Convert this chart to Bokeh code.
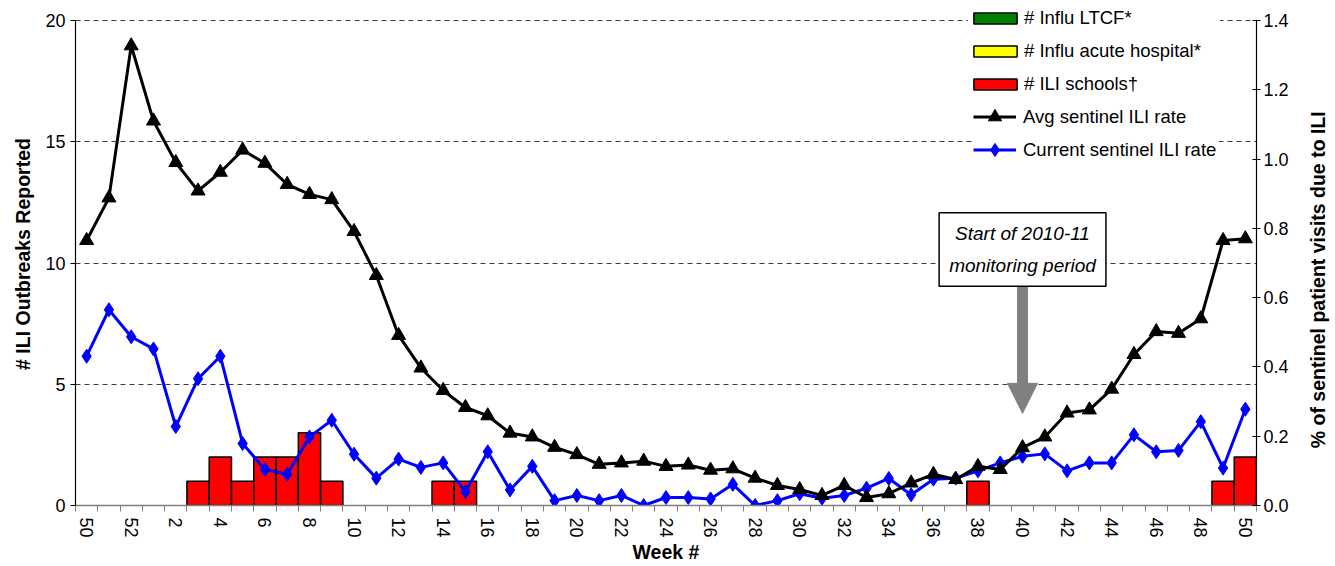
import math
from bokeh.plotting import figure
from bokeh.layouts import row
from bokeh.core.properties import value
from bokeh.models import (Range1d, LinearAxis, FixedTicker, Legend, LegendItem, Label,
                          Arrow, NormalHead, PrintfTickFormatter, ColumnDataSource)
from bokeh.embed import file_html
from bokeh.resources import INLINE

# ---------------- data ----------------
weeks = [50, 51, 52, 1, 2, 3, 4, 5, 6, 7, 8, 9, 10, 11, 12, 13, 14, 15, 16, 17, 18, 19, 20,
         21, 22, 23, 24, 25, 26, 27, 28, 29, 30, 31, 32, 33, 34, 35, 36, 37, 38, 39, 40,
         41, 42, 43, 44, 45, 46, 47, 48, 49, 50]
influ_ltcf = [0, 0, 0, 0, 0, 0, 0, 0, 0, 0, 0, 0, 0, 0, 0, 0, 0, 0, 0, 0, 0, 0, 0, 0, 0, 0, 0,
              0, 0, 0, 0, 0, 0, 0, 0, 0, 0, 0, 0, 0, 0, 0, 0, 0, 0, 0, 0, 0, 0, 0, 0, 0, 0]
influ_hosp = [0, 0, 0, 0, 0, 0, 0, 0, 0, 0, 0, 0, 0, 0, 0, 0, 0, 0, 0, 0, 0, 0, 0, 0, 0, 0, 0,
              0, 0, 0, 0, 0, 0, 0, 0, 0, 0, 0, 0, 0, 0, 0, 0, 0, 0, 0, 0, 0, 0, 0, 0, 0, 0]
ili_schools = [0, 0, 0, 0, 0, 1, 2, 1, 2, 2, 3, 1, 0, 0, 0, 0, 1, 1, 0, 0, 0, 0, 0, 0, 0, 0, 0,
               0, 0, 0, 0, 0, 0, 0, 0, 0, 0, 0, 0, 0, 1, 0, 0, 0, 0, 0, 0, 0, 0, 0, 0, 1, 2]
avg_rate = [0.765, 0.888, 1.327, 1.110, 0.990, 0.908, 0.962, 1.026, 0.988, 0.927, 0.898, 0.883,
            0.791, 0.664, 0.491, 0.397, 0.332, 0.283, 0.259, 0.209, 0.198, 0.168, 0.147, 0.119,
            0.123, 0.128, 0.113, 0.117, 0.102, 0.106, 0.079, 0.058, 0.046, 0.029, 0.058, 0.023,
            0.034, 0.065, 0.090, 0.075, 0.113, 0.104, 0.167, 0.198, 0.267, 0.276, 0.336, 0.436,
            0.502, 0.497, 0.539, 0.765, 0.770]
cur_rate = [0.431, 0.565, 0.487, 0.452, 0.228, 0.366, 0.431, 0.179, 0.104, 0.090, 0.198, 0.246,
            0.148, 0.079, 0.134, 0.110, 0.123, 0.040, 0.155, 0.045, 0.113, 0.014, 0.029, 0.014,
            0.029, 0.000, 0.023, 0.023, 0.019, 0.061, 0.000, 0.014, 0.034, 0.021, 0.029, 0.050,
            0.078, 0.031, 0.076, 0.079, 0.100, 0.123, 0.142, 0.149, 0.100, 0.123, 0.123, 0.204,
            0.155, 0.159, 0.242, 0.108, 0.278]
left_ticks = [0, 5, 10, 15, 20]
right_ticks = [0.0, 0.2, 0.4, 0.6, 0.8, 1.0, 1.2, 1.4]
series_names = ["# Influ LTCF*", "# Influ acute hospital*", "# ILI schools\u2020",
                "Avg sentinel ILI rate", "Current sentinel ILI rate"]
left_title = "# ILI Outbreaks Reported"
right_title = "% of sentinel patient visits due to ILI"
x_title = "Week #"
note_week = 40
note_text = "Start of 2010-11\nmonitoring period"

FONT = "Liberation Sans"
n = len(weeks)
xs = list(range(n))

# frame: 503 px tall, axis scale of 485 px for the 0..20 span (extra room on top for legend)
top_ext = 503.0 / 485.0
p = figure(width=1305, height=566, output_backend="svg", toolbar_location=None,
           x_range=Range1d(-0.5, n - 0.5),
           y_range=Range1d(left_ticks[0], left_ticks[-1] * top_ext),
           min_border_left=75, min_border_right=49, min_border_top=2, min_border_bottom=61)
p.outline_line_color = None
p.background_fill_color = "white"
p.xgrid.visible = False
p.ygrid.ticker = FixedTicker(ticks=left_ticks[1:])
p.ygrid.grid_line_color = "#3a3a3a"
p.ygrid.grid_line_dash = "5 4"
p.ygrid.grid_line_width = 1

p.extra_y_ranges = {"pct": Range1d(right_ticks[0], right_ticks[-1] * top_ext)}

# ---- bars (stacked) ----
def draw_bars(vals, bottoms, color):
    src = ColumnDataSource(dict(
        x=xs,
        bottom=bottoms,
        top=[b + v if v > 0 else float("nan") for b, v in zip(bottoms, vals)]))
    return p.vbar(x="x", bottom="bottom", top="top", width=1.0, source=src,
                  fill_color=color, line_color="black", line_width=1.5)

zero = [0 for _ in weeks]
b1 = draw_bars(influ_ltcf, zero, "#008000")
hosp_bottom = [a for a in influ_ltcf]
b2 = draw_bars(influ_hosp, hosp_bottom, "#FFFF00")
sch_bottom = [a + b for a, b in zip(influ_ltcf, influ_hosp)]
b3 = draw_bars(ili_schools, sch_bottom, "#FF0000")

# ---- lines on right axis ----
lc = p.line(xs, cur_rate, y_range_name="pct", line_color="#0000FF", line_width=3)
mc = p.scatter(xs, cur_rate, y_range_name="pct", marker="diamond", size=14,
               fill_color="#0000FF", line_color="#0000FF")
la = p.line(xs, avg_rate, y_range_name="pct", line_color="black", line_width=3)
ma = p.scatter(xs, avg_rate, y_range_name="pct", marker="triangle", size=14,
               fill_color="black", line_color="black")

# ---- axes ----
xax = p.xaxis[0]
xax.ticker = FixedTicker(ticks=xs[::2], minor_ticks=[i - 0.5 for i in range(n + 1)])
xax.major_label_overrides = {i: str(weeks[i]) for i in xs[::2]}
xax.major_label_orientation = -math.pi / 2
xax.major_tick_line_color = None
xax.minor_tick_out = 6
xax.minor_tick_in = 0
xax.minor_tick_line_color = "#808080"
xax.axis_line_color = "#808080"
xax.axis_line_width = 1.5
xax.major_label_standoff = 6
xax.axis_label = x_title
xax.axis_label_standoff = 0

yax = p.yaxis[0]
yax.ticker = FixedTicker(ticks=left_ticks)
yax.bounds = (left_ticks[0], left_ticks[-1])
yax.major_tick_out = 5
yax.major_tick_in = 0
yax.minor_tick_line_color = None
yax.axis_label = left_title
yax.axis_label_standoff = 8

rax = LinearAxis(y_range_name="pct", ticker=FixedTicker(ticks=right_ticks),
                 formatter=PrintfTickFormatter(format="%.1f"))
rax.bounds = (right_ticks[0], right_ticks[-1])
rax.major_tick_out = 4
rax.major_tick_in = 4
rax.major_label_standoff = 3
rax.minor_tick_line_color = None
p.add_layout(rax, "right")

for ax in (xax, yax, rax):
    ax.major_label_text_font = FONT
    ax.major_label_text_font_size = "18px"
    ax.major_label_text_color = "black"
    ax.axis_label_text_font = FONT
    ax.axis_label_text_font_size = "19.5px"
    ax.axis_label_text_font_style = "bold"
    ax.axis_label_text_color = "black"
for ax in (yax, rax):
    ax.axis_line_color = "black"
    ax.axis_line_width = 1.2
    ax.major_tick_line_color = "black"

# ---- annotation ----
note_x = 3 + weeks[3:].index(note_week)
arrow = Arrow(x_start=note_x, y_start=9.15, x_end=note_x, y_end=3.8,
              line_color="#808080", line_width=11,
              end=NormalHead(size=30, fill_color="#808080", line_color="#808080", line_width=1))
p.add_layout(arrow)
note = Label(x=note_x, y=10.56, text=note_text, text_align="center", text_baseline="middle",
             text_font=FONT, text_font_style="italic", text_font_size="19px",
             text_line_height=1.55, text_color="black",
             background_fill_color="white", border_line_color="black", border_line_width=1.5,
             padding=10)
p.add_layout(note)

# ---- legends (bars / lines) ----
def style_legend(lg):
    lg.label_height = 20
    lg.margin = 0
    lg.padding = 10
    lg.label_width = 196
    lg.label_text_font = FONT
    lg.label_text_font_size = "18.5px"
    lg.label_text_color = "black"
    lg.border_line_color = None
    lg.background_fill_color = "white"
    lg.background_fill_alpha = 1.0

legA = Legend(items=[
    LegendItem(label=series_names[0], renderers=[b1]),
    LegendItem(label=series_names[1], renderers=[b2]),
    LegendItem(label=series_names[2], renderers=[b3]),
], location=(893, 410))
style_legend(legA)
legA.glyph_width = 54
legA.glyph_height = 14
legA.spacing = 11
legA.label_standoff = 2

legB = Legend(items=[
    LegendItem(label=series_names[3], renderers=[la, ma]),
    LegendItem(label=series_names[4], renderers=[lc, mc]),
], location=(898, 339))
style_legend(legB)
legB.glyph_width = 43
legB.glyph_height = 33
legB.spacing = 0
legB.label_standoff = 7

p.add_layout(legB)
p.add_layout(legA)

# ---- right-hand axis title (reads bottom to top) ----
p2 = figure(width=30, height=566, output_backend="svg", toolbar_location=None,
            x_range=Range1d(0, 30), y_range=Range1d(0, 566), min_border=0,
            x_axis_type=None, y_axis_type=None)
p2.outline_line_color = None
p2.background_fill_color = "white"
p2.text(x=[12], y=[254], text=[right_title], angle=math.pi / 2,
        text_align="center", text_baseline="middle", text_font=value(FONT),
        text_font_style="bold", text_font_size="19.5px", text_color="black")

layout = row(p, p2, spacing=0)
open("out.html", "w").write(file_html(layout, INLINE))
